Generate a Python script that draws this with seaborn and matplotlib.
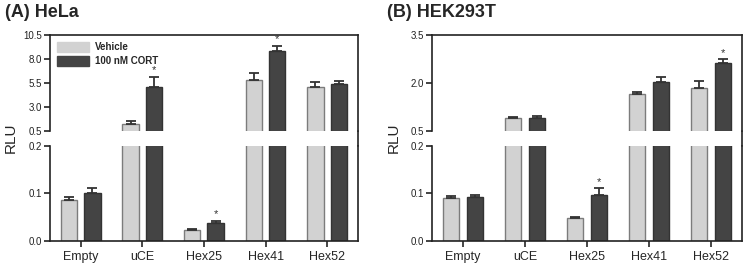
import matplotlib.pyplot as plt
import pandas as pd
import seaborn as sns
from matplotlib.lines import Line2D
from matplotlib.ticker import FormatStrFormatter

categories = ["Empty", "uCE", "Hex25", "Hex41", "Hex52"]
treatments = ["Vehicle", "100 nM CORT"]

hela_vehicle = [0.086, 1.2, 0.023, 5.8, 5.1]
hela_vehicle_err = [0.007, 0.3, 0.002, 0.7, 0.5]
hela_cort = [0.100, 5.05, 0.037, 8.85, 5.35]
hela_cort_err = [0.012, 1.1, 0.006, 0.55, 0.38]
hela_sig = [False, True, True, True, False]

hek_vehicle = [0.091, 0.90, 0.049, 1.67, 1.84]
hek_vehicle_err = [0.003, 0.05, 0.002, 0.05, 0.23]
hek_cort = [0.093, 0.92, 0.097, 2.02, 2.63]
hek_cort_err = [0.004, 0.04, 0.014, 0.17, 0.12]
hek_sig = [False, False, True, False, True]

hela_upper_ticks = [0.5, 3.0, 5.5, 8.0, 10.5]
hek_upper_ticks = [0.5, 2.0, 3.5]
lower_ticks = [0.0, 0.1, 0.2]

sns.set_style("white")
plt.rcParams["font.family"] = ["Liberation Sans", "DejaVu Sans"]

bar_colors = ["#d2d2d2", "#444444"]
edge_colors = ["#7c7c7c", "#333333"]


def draw_bars(ax, df, errs, sig, show_stars):
    sns.barplot(data=df, x="construct", y="rlu", hue="treatment", order=categories,
                hue_order=treatments, palette=bar_colors, width=0.76, gap=0.3,
                errorbar=None, legend=False, ax=ax)
    bar_conts = list(ax.containers)
    for i, cont in enumerate(bar_conts):
        xs = [b.get_x() + b.get_width() / 2 for b in cont]
        hs = [b.get_height() for b in cont]
        for b in cont:
            b.set_edgecolor(edge_colors[i])
            b.set_linewidth(1.0)
        ax.errorbar(xs, hs, yerr=[[0] * len(errs[i]), errs[i]], fmt="none",
                    ecolor="#333333", elinewidth=1.3, capsize=3.5, capthick=1.3)
        if i == 1:
            for x, h, e, s in zip(xs, hs, errs[i], sig):
                if s and show_stars(h + e):
                    ax.annotate("*", (x, h + e), xytext=(0, 1), textcoords="offset points",
                                ha="center", va="bottom", fontsize=8, color="#333333")


def make_panel(left, width, title, vehicle, vehicle_err, cort, cort_err, sig,
               upper_max, upper_ticks, legend):
    df = pd.DataFrame({
        "construct": categories * 2,
        "treatment": [treatments[0]] * 5 + [treatments[1]] * 5,
        "rlu": vehicle + cort,
    })
    errs = [vehicle_err, cort_err]

    ax_up = fig.add_axes([left, 0.5166, width, 0.3542])
    ax_lo = fig.add_axes([left, 0.1107, width, 0.3506])

    draw_bars(ax_up, df, errs, sig, lambda v: v > 0.5)
    draw_bars(ax_lo, df, errs, sig, lambda v: v < 0.2)

    ax_up.set_ylim(0.5, upper_max)
    ax_up.set_yticks(upper_ticks)
    ax_lo.set_ylim(0, 0.2)
    ax_lo.set_yticks(lower_ticks)
    for ax in (ax_up, ax_lo):
        ax.set_xlim(-0.5, 4.5)
        ax.set_xlabel("")
        ax.set_ylabel("")
        ax.yaxis.set_major_formatter(FormatStrFormatter("%.1f"))
        ax.tick_params(axis="y", direction="out", length=4, width=1.2, labelsize=7,
                       colors="#222222", left=True, pad=1.5)
        for sp in ax.spines.values():
            sp.set_linewidth(1.2)
            sp.set_color("#222222")

    ax_up.spines["bottom"].set_visible(False)
    ax_up.tick_params(axis="x", bottom=False, labelbottom=False)
    ax_lo.spines["top"].set_visible(False)
    ax_lo.tick_params(axis="x", direction="out", length=4, width=1.2, labelsize=9,
                      bottom=True, pad=3)

    # join the right spine across the break
    x_r = left + width
    fig.add_artist(Line2D([x_r, x_r], [0.1107 + 0.3506, 0.5166], transform=fig.transFigure,
                          color="#222222", linewidth=1.2))

    fig.text(left - 0.052, 0.49, "RLU", rotation=90, ha="center", va="center", fontsize=11)
    fig.text(left - 0.06, 0.955, title, ha="left", va="center", fontsize=13,
             fontweight="bold")

    if legend:
        handles = [plt.Rectangle((0, 0), 1, 1, color=c) for c in bar_colors]
        leg = ax_up.legend(handles, treatments, loc="upper left", frameon=False,
                           fontsize=7, handlelength=3.3, handleheight=1.3,
                           borderaxespad=0.3, labelspacing=0.35, handletextpad=0.6)
        for t in leg.get_texts():
            t.set_fontweight("bold")


fig = plt.figure(figsize=(7.45, 2.71), dpi=100)

make_panel(0.0671, 0.4134, "(A) HeLa", hela_vehicle, hela_vehicle_err, hela_cort,
           hela_cort_err, hela_sig, 10.5, hela_upper_ticks, True)
make_panel(0.5799, 0.4161, "(B) HEK293T", hek_vehicle, hek_vehicle_err, hek_cort,
           hek_cort_err, hek_sig, 3.5, hek_upper_ticks, False)

fig.savefig("out.png", dpi=100)
